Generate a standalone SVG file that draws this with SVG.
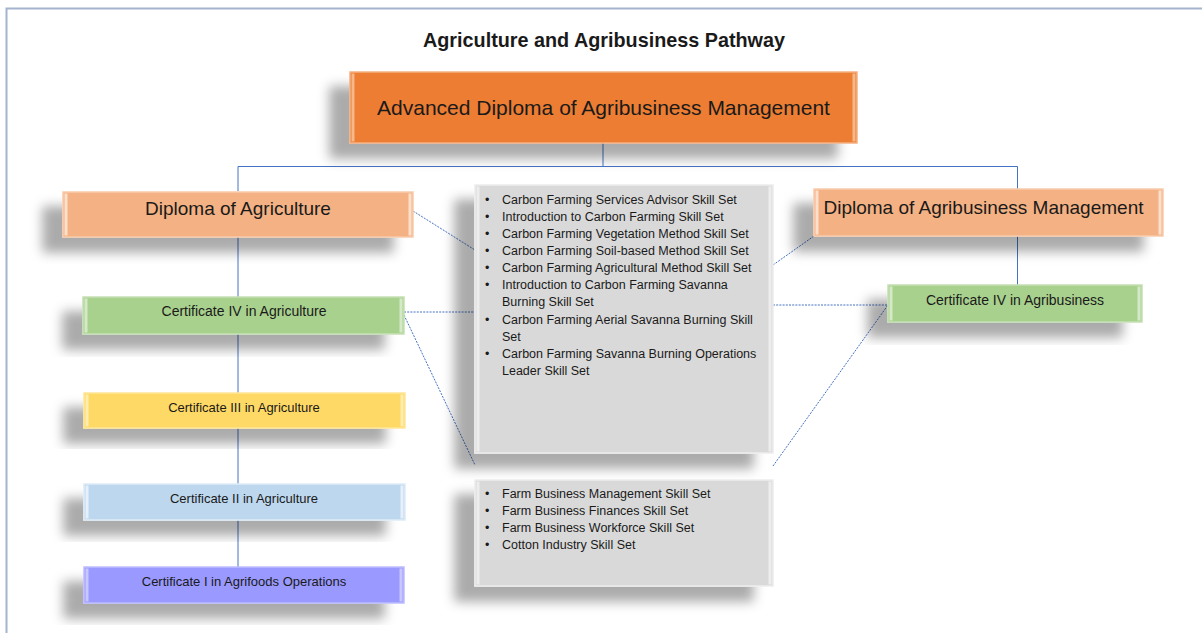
<svg xmlns="http://www.w3.org/2000/svg" width="1202" height="633" viewBox="0 0 1202 633">
<style>
text{font-family:"Liberation Sans",Arial,sans-serif;fill:#1a1a1a}
.title{font-weight:bold;font-size:19.8px}
.c{text-anchor:middle}
.conn{fill:none;stroke:#4472C4;stroke-width:1}
.dot{fill:none;stroke:#4472C4;stroke-width:1;stroke-dasharray:2 1.2}
.li{font-size:12.5px}
.node{filter:url(#sh)}
</style>
<defs>
<filter id="sh" x="-20%" y="-40%" width="140%" height="200%">
<feDropShadow dx="-20" dy="15" stdDeviation="6" flood-color="#000" flood-opacity="0.33"/>
</filter>
</defs>
<rect x="0" y="0" width="1202" height="633" fill="#fff"/>
<path d="M6.5 633V8.5H1202" fill="none" stroke="#A5B3CE" stroke-width="2"/>
<text class="title c" x="604" y="47">Agriculture and Agribusiness Pathway</text>

<g id="connectors">
<path class="conn" d="M603 143V166.5M238 191V166.5H1017.5V189"/>
<path class="conn" d="M238 237V297M238 334V393M238 428V484M238 520V567"/>
<path class="conn" d="M1017.5 236V285"/>
<path class="dot" d="M413 211L475 250M404 312H475M404 315L475 465"/>
<path class="dot" d="M773 265L814 236M773 305H888M773 466L888 305"/>
</g>

<g id="advanced">
<rect class="node" x="350" y="72" width="507" height="71" fill="#ED7D31" stroke="#F4B183" stroke-width="1.5"/>
<rect x="351.5" y="73.5" width="3" height="68" fill="#F6B889"/>
<rect x="852.5" y="73.5" width="3" height="68" fill="#F6B889"/>
<text class="c" x="603.5" y="115" font-size="21">Advanced Diploma of Agribusiness Management</text>
</g>

<g id="dip-agri">
<rect class="node" x="63" y="192" width="350" height="45" fill="#F4B183" stroke="#F8CBAD" stroke-width="1.5"/>
<rect x="64.5" y="193.5" width="3" height="42" fill="#FBE0CC"/>
<rect x="408.5" y="193.5" width="3" height="42" fill="#FBE0CC"/>
<text class="c" x="238" y="215" font-size="19">Diploma of Agriculture</text>
</g>

<g id="dip-agribus">
<rect class="node" x="814" y="189" width="349" height="47" fill="#F4B183" stroke="#F8CBAD" stroke-width="1.5"/>
<rect x="815.5" y="190.5" width="3" height="44" fill="#FBE0CC"/>
<rect x="1158.5" y="190.5" width="3" height="44" fill="#FBE0CC"/>
<text class="c" x="983.5" y="214" font-size="19">Diploma of Agribusiness Management</text>
</g>

<g id="cert4-agri">
<rect class="node" x="83" y="297" width="321" height="37" fill="#A9D18E" stroke="#C5E0B4" stroke-width="1.5"/>
<rect x="84.5" y="298.5" width="3" height="34" fill="#D5E9C8"/>
<rect x="399.5" y="298.5" width="3" height="34" fill="#D5E9C8"/>
<text class="c" x="244" y="316" font-size="14">Certificate IV in Agriculture</text>
</g>

<g id="cert3-agri">
<rect class="node" x="84" y="393" width="321" height="35" fill="#FFD966" stroke="#FFE699" stroke-width="1.5"/>
<rect x="85.5" y="394.5" width="3" height="32" fill="#FFEDB0"/>
<rect x="400.5" y="394.5" width="3" height="32" fill="#FFEDB0"/>
<text class="c" x="244" y="412" font-size="13">Certificate III in Agriculture</text>
</g>

<g id="cert2-agri">
<rect class="node" x="84" y="484" width="321" height="36" fill="#BDD7EE" stroke="#DEEBF7" stroke-width="1.5"/>
<rect x="85.5" y="485.5" width="3" height="33" fill="#E6F0FA"/>
<rect x="400.5" y="485.5" width="3" height="33" fill="#E6F0FA"/>
<text class="c" x="244" y="503" font-size="13">Certificate II in Agriculture</text>
</g>

<g id="cert1-agrifoods">
<rect class="node" x="84" y="567" width="320" height="36" fill="#9999FF" stroke="#BDBDFF" stroke-width="1.5"/>
<rect x="85.5" y="568.5" width="3" height="33" fill="#C8C8FF"/>
<rect x="399.5" y="568.5" width="3" height="33" fill="#C8C8FF"/>
<text class="c" x="244" y="586" font-size="13">Certificate I in Agrifoods Operations</text>
</g>

<g id="cert4-agribus">
<rect class="node" x="888" y="285" width="254" height="37" fill="#A9D18E" stroke="#C5E0B4" stroke-width="1.5"/>
<rect x="889.5" y="286.5" width="3" height="34" fill="#D5E9C8"/>
<rect x="1137.5" y="286.5" width="3" height="34" fill="#D5E9C8"/>
<text class="c" x="1015" y="305" font-size="14">Certificate IV in Agribusiness</text>
</g>

<g id="carbon-skillsets">
<rect class="node" x="475" y="185" width="298" height="268" fill="#D9D9D9" stroke="#EDEDED" stroke-width="1.5"/>
<rect x="476.5" y="186.5" width="3" height="265" fill="#EDEDED"/>
<rect x="768.5" y="186.5" width="3" height="265" fill="#EDEDED"/>
<g class="li">
<text x="485" y="203.5">•</text><text x="502" y="203.5">Carbon Farming Services Advisor Skill Set</text>
<text x="485" y="220.7">•</text><text x="502" y="220.7">Introduction to Carbon Farming Skill Set</text>
<text x="485" y="237.8">•</text><text x="502" y="237.8">Carbon Farming Vegetation Method Skill Set</text>
<text x="485" y="255">•</text><text x="502" y="255">Carbon Farming Soil-based Method Skill Set</text>
<text x="485" y="272.1">•</text><text x="502" y="272.1">Carbon Farming Agricultural Method Skill Set</text>
<text x="485" y="289.3">•</text><text x="502" y="289.3">Introduction to Carbon Farming Savanna</text>
<text x="502" y="306.4">Burning Skill Set</text>
<text x="485" y="323.6">•</text><text x="502" y="323.6">Carbon Farming Aerial Savanna Burning Skill</text>
<text x="502" y="340.7">Set</text>
<text x="485" y="357.9">•</text><text x="502" y="357.9">Carbon Farming Savanna Burning Operations</text>
<text x="502" y="375">Leader Skill Set</text>
</g>
</g>

<g id="farm-skillsets">
<rect class="node" x="475" y="480" width="298" height="106" fill="#D9D9D9" stroke="#EDEDED" stroke-width="1.5"/>
<rect x="476.5" y="481.5" width="3" height="103" fill="#EDEDED"/>
<rect x="768.5" y="481.5" width="3" height="103" fill="#EDEDED"/>
<g class="li">
<text x="485" y="497.5">•</text><text x="502" y="497.5">Farm Business Management Skill Set</text>
<text x="485" y="514.8">•</text><text x="502" y="514.8">Farm Business Finances Skill Set</text>
<text x="485" y="532">•</text><text x="502" y="532">Farm Business Workforce Skill Set</text>
<text x="485" y="549.2">•</text><text x="502" y="549.2">Cotton Industry Skill Set</text>
</g>
</g>
</svg>
